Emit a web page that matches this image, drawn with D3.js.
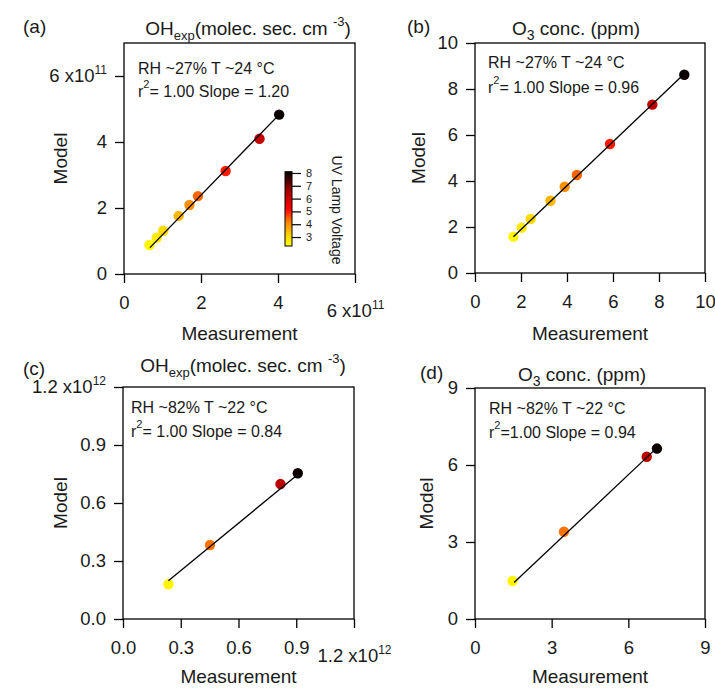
<!DOCTYPE html>
<html>
<head>
<meta charset="utf-8">
<script src="https://cdn.jsdelivr.net/npm/d3@7"></script>
<style>
  body { margin: 0; background: #fff; }
  svg text { font-family: "Liberation Sans", Arial, sans-serif; fill: #1a1a1a; }
</style>
</head>
<body>
<svg id="chart" width="715" height="689"></svg>
<script>
/* ---------------------------------------------------------------*/
// data
var voltsLowRH = [2.5, 2.7, 3.0, 3.5, 4.0, 4.4, 5.0, 6.2, 8.0];
var voltsHighRH = [2.5, 4.3, 6.3, 8.0];

var ohMeasLowRH  = [0.66e11, 0.85e11, 1.02e11, 1.42e11, 1.70e11, 1.92e11, 2.64e11, 3.52e11, 4.03e11];
var ohModelLowRH = [0.88e11, 1.10e11, 1.31e11, 1.76e11, 2.09e11, 2.36e11, 3.12e11, 4.10e11, 4.83e11];
var ohFitLowRH_x = [0.675e11, 4.03e11];
var ohFitLowRH_y = [0.80e11, 4.83e11];

var o3MeasLowRH  = [1.67, 2.03, 2.42, 3.28, 3.90, 4.43, 5.87, 7.71, 9.10];
var o3ModelLowRH = [1.58, 1.97, 2.35, 3.14, 3.75, 4.26, 5.61, 7.32, 8.62];
var o3FitLowRH_x = [1.67, 9.10];
var o3FitLowRH_y = [1.58, 8.66];

var ohMeasHighRH  = [0.236e12, 0.452e12, 0.818e12, 0.908e12];
var ohModelHighRH = [0.180e12, 0.383e12, 0.698e12, 0.754e12];
var ohFitHighRH_x = [0.236e12, 0.90e12];
var ohFitHighRH_y = [0.198e12, 0.741e12];

var o3MeasHighRH  = [1.47, 3.48, 6.72, 7.12];
var o3ModelHighRH = [1.48, 3.40, 6.32, 6.64];
var o3FitHighRH_x = [1.53, 6.98];
var o3FitHighRH_y = [1.42, 6.54];

var ohTicksLowRH  = [0, 2e11, 4e11, 6e11];
var o3TicksLowRH  = [0, 2, 4, 6, 8, 10];
var ohTicksHighRH = [0, 0.3e12, 0.6e12, 0.9e12, 1.2e12];
var o3TicksHighRH = [0, 3, 6, 9];
var cbarTicks = [3, 4, 5, 6, 7, 8];

/* ---------------------------------------------------------------*/
var svg = d3.select('#chart');

var voltColor = d3.scaleLinear()
  .domain([2.3, 3.2, 4.2, 5.2, 6.5, 8.1])
  .range(['#ffff00', '#ffd000', '#ff8000', '#ff0000', '#b00000', '#000000'])
  .clamp(true);

function putExp(textSel, mant, exp, shiftDown) {
  textSel.text(mant + ' x10');
  textSel.append('tspan').attr('dy', -8).attr('font-size', 12).text(exp);
  if (shiftDown) textSel.attr('y', +textSel.attr('y') + 8);
}

function drawPanel(p) {
  var g = svg.append('g');
  var x = d3.scaleLinear().domain(p.xDom).range([p.x0, p.x1]);
  var y = d3.scaleLinear().domain(p.yDom).range([p.y1, p.y0]);

  var xa = g.append('g').attr('transform', 'translate(0,' + p.y1 + ')')
    .call(d3.axisBottom(x).tickValues(p.xTicks).tickSize(9).tickSizeOuter(0)
      .tickPadding(13).tickFormat(p.fmt));
  var ya = g.append('g').attr('transform', 'translate(' + p.x0 + ',0)')
    .call(d3.axisLeft(y).tickValues(p.yTicks).tickSize(9).tickSizeOuter(0)
      .tickPadding(8).tickFormat(p.fmt));
  [xa, ya].forEach(function(a) {
    a.select('.domain').remove();
    a.selectAll('line').attr('stroke', '#000').attr('stroke-width', 1.3);
    a.selectAll('text').attr('font-size', 18.5).attr('fill', '#1a1a1a');
  });
  if (p.exp) {
    xa.selectAll('.tick text').filter(function(d) { return d === p.exp.v; })
      .each(function() { putExp(d3.select(this), p.exp.m, p.exp.e, true); });
    ya.selectAll('.tick text').filter(function(d) { return d === p.exp.v; })
      .each(function() { putExp(d3.select(this), p.exp.m, p.exp.e, false); });
  }

  g.append('rect')
    .attr('x', p.x0).attr('y', p.y0)
    .attr('width', p.x1 - p.x0).attr('height', p.y1 - p.y0)
    .attr('fill', 'none').attr('stroke', '#000').attr('stroke-width', 1.3);

  g.selectAll('circle.pt').data(p.meas).enter().append('circle')
    .attr('class', 'pt')
    .attr('cx', function(d) { return x(d); })
    .attr('cy', function(d, i) { return y(p.model[i]); })
    .attr('r', 5.2)
    .attr('fill', function(d, i) { return voltColor(p.volts[i]); });
  // fit line sits on top of the markers
  g.append('line')
    .attr('x1', x(p.fitX[0])).attr('y1', y(p.fitY[0]))
    .attr('x2', x(p.fitX[1])).attr('y2', y(p.fitY[1]))
    .attr('stroke', '#000').attr('stroke-width', 1.3);

  // panel letter
  g.append('text').attr('x', p.lab[0]).attr('y', p.lab[1])
    .attr('font-size', 19).text(p.letter);

  // title
  var t = g.append('text').attr('x', p.title[0]).attr('y', p.title[1])
    .attr('text-anchor', 'middle').attr('font-size', 19);
  if (p.kind === 'oh') {
    t.append('tspan').text('OH');
    t.append('tspan').attr('dy', 5).attr('font-size', 13).text('exp');
    t.append('tspan').attr('dy', -5).text('(molec. sec. cm ');
    t.append('tspan').attr('dy', -9).attr('font-size', 13).text('-3');
    t.append('tspan').attr('dy', 9).text(')');
  } else {
    t.append('tspan').text('O');
    t.append('tspan').attr('dy', 5).attr('font-size', 14).text('3');
    t.append('tspan').attr('dy', -5).text(' conc. (ppm)');
  }

  // annotation
  g.append('text').attr('x', p.note[0]).attr('y', p.note[1])
    .attr('font-size', 16).text(p.noteText[0]);
  var r = g.append('text').attr('x', p.note[0]).attr('y', p.note[2])
    .attr('font-size', 16);
  r.append('tspan').text('r');
  r.append('tspan').attr('dy', -9).attr('font-size', 11).text('2');
  r.append('tspan').attr('dy', 9).text(p.noteText[1]);

  // axis titles
  g.append('text').attr('x', (p.x0 + p.x1) / 2).attr('y', p.xTitleY)
    .attr('text-anchor', 'middle').attr('font-size', 19).text('Measurement');
  g.append('text')
    .attr('transform', 'translate(' + p.yTitleX + ',' + ((p.y0 + p.y1) / 2) + ') rotate(-90)')
    .attr('text-anchor', 'middle').attr('dominant-baseline', 'central')
    .attr('font-size', 19).text('Model');
}

/* ---------------------------------------------------------------*/
drawPanel({
  kind: 'oh', letter: '(a)', lab: [23, 33], title: [248, 35],
  x0: 124, x1: 355, y0: 43, y1: 274,
  xDom: [0, 6e11], yDom: [0, 7e11], xTicks: ohTicksLowRH, yTicks: ohTicksLowRH,
  fmt: function(d) { return String(d / 1e11); },
  exp: { v: 6e11, m: '6', e: '11' },
  meas: ohMeasLowRH, model: ohModelLowRH, volts: voltsLowRH,
  fitX: ohFitLowRH_x, fitY: ohFitLowRH_y,
  note: [138, 74, 97], noteText: ['RH ~27% T ~24 \u00B0C', '= 1.00 Slope = 1.20'],
  xTitleY: 340, yTitleX: 60
});

drawPanel({
  kind: 'o3', letter: '(b)', lab: [407, 33], title: [576, 35],
  x0: 475, x1: 705, y0: 43, y1: 273,
  xDom: [0, 10], yDom: [0, 10], xTicks: o3TicksLowRH, yTicks: o3TicksLowRH,
  fmt: function(d) { return String(d); },
  meas: o3MeasLowRH, model: o3ModelLowRH, volts: voltsLowRH,
  fitX: o3FitLowRH_x, fitY: o3FitLowRH_y,
  note: [488, 68, 93], noteText: ['RH ~27% T ~24 \u00B0C', '= 1.00 Slope = 0.96'],
  xTitleY: 340, yTitleX: 418
});

drawPanel({
  kind: 'oh', letter: '(c)', lab: [23, 375], title: [243, 372],
  x0: 123, x1: 354, y0: 387, y1: 619,
  xDom: [0, 1.2e12], yDom: [0, 1.2e12], xTicks: ohTicksHighRH, yTicks: ohTicksHighRH,
  fmt: function(d) { return d3.format('.1f')(d / 1e12); },
  exp: { v: 1.2e12, m: '1.2', e: '12' },
  meas: ohMeasHighRH, model: ohModelHighRH, volts: voltsHighRH,
  fitX: ohFitHighRH_x, fitY: ohFitHighRH_y,
  note: [131, 413, 437], noteText: ['RH ~82% T ~22 \u00B0C', '= 1.00 Slope = 0.84'],
  xTitleY: 683, yTitleX: 60
});

drawPanel({
  kind: 'o3', letter: '(d)', lab: [420, 379], title: [582, 381],
  x0: 475, x1: 705, y0: 388, y1: 619,
  xDom: [0, 9], yDom: [0, 9], xTicks: o3TicksHighRH, yTicks: o3TicksHighRH,
  fmt: function(d) { return String(d); },
  meas: o3MeasHighRH, model: o3ModelHighRH, volts: voltsHighRH,
  fitX: o3FitHighRH_x, fitY: o3FitHighRH_y,
  note: [489, 414, 438], noteText: ['RH ~82% T ~22 \u00B0C', '=1.00 Slope = 0.94'],
  xTitleY: 683, yTitleX: 426
});

/* ---------------------------------------------------------------*/
// colour bar inside panel (a)
var cb = svg.append('g');
var cbY = d3.scaleLinear().domain([2.3, 8.1]).range([246, 171.7]);
var grad = svg.append('defs').append('linearGradient').attr('id', 'cbgrad')
  .attr('x1', 0).attr('y1', 1).attr('x2', 0).attr('y2', 0);
d3.range(0, 1.0001, 0.05).forEach(function(f) {
  grad.append('stop').attr('offset', f)
    .attr('stop-color', voltColor(2.3 + f * (8.1 - 2.3)));
});
cb.append('rect').attr('x', 285).attr('y', cbY(8.1))
  .attr('width', 7).attr('height', cbY(2.3) - cbY(8.1))
  .attr('fill', 'url(#cbgrad)').attr('stroke', '#000').attr('stroke-width', 1);
var cbAxis = cb.append('g').attr('transform', 'translate(292,0)')
  .call(d3.axisRight(cbY).tickValues(cbarTicks).tickSize(9).tickSizeOuter(0)
    .tickPadding(5).tickFormat(d3.format('d')));
cbAxis.select('.domain').remove();
cbAxis.selectAll('line').attr('stroke', '#000').attr('stroke-width', 1.2);
cbAxis.selectAll('text').attr('font-size', 11).attr('fill', '#1a1a1a');
cb.append('text')
  .attr('transform', 'translate(337,210) rotate(90)')
  .attr('text-anchor', 'middle').attr('dominant-baseline', 'central')
  .attr('font-size', 14).text('UV Lamp Voltage');
</script>
</body>
</html>
